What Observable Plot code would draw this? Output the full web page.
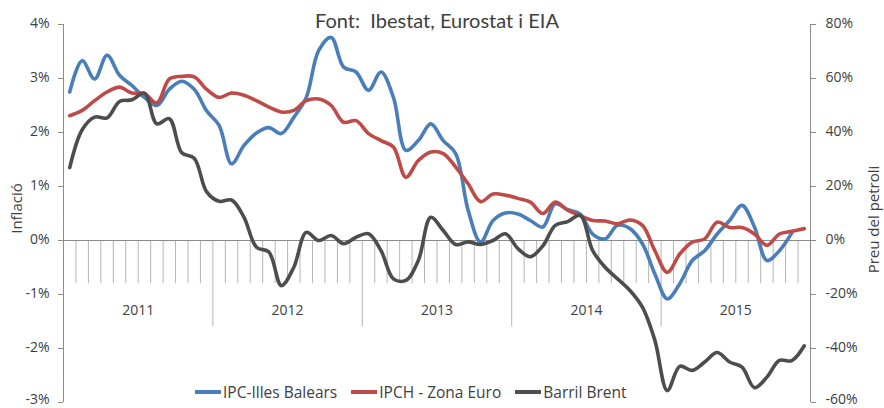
<!DOCTYPE html>
<html><head><meta charset="utf-8">
<script src="https://cdn.jsdelivr.net/npm/d3@7"></script>
<script src="https://cdn.jsdelivr.net/npm/@observablehq/plot@0.6"></script>
<style>
body{margin:0;background:#fff;}
#wrap{position:relative;width:884px;height:408px;font-family:"Open Sans",sans-serif;}
#legend{position:absolute;left:195px;top:383px;display:flex;align-items:center;font-size:15.5px;color:#404040;white-space:nowrap;line-height:18px;}
.item{display:flex;align-items:center;margin-right:14px}
.sw{width:26px;height:4px;margin-right:2px}
</style></head><body><div id="wrap"><div id="legend"></div></div>
<script>
const years = ["2011","2012","2013","2014","2015"];
const ipcBalears = [2.75,3.33,2.99,3.43,3.06,2.87,2.65,2.5,2.8,2.95,2.8,2.4,
  2.13,1.42,1.76,1.99,2.09,1.98,2.28,2.65,3.52,3.76,3.21,3.12,
  2.78,3.12,2.65,1.67,1.85,2.16,1.85,1.61,0.56,-0.03,0.37,0.51,
  0.49,0.37,0.25,0.68,0.57,0.49,0.12,0.03,0.28,0.22,-0.06,-0.62,
  -1.08,-0.8,-0.37,-0.19,0.12,0.37,0.65,0.25,-0.37,-0.19,0.14,null];
const ipchEuro = [2.31,2.41,2.59,2.75,2.84,2.73,2.72,2.55,2.99,3.04,3.03,2.8,
  2.65,2.73,2.69,2.59,2.47,2.38,2.41,2.59,2.62,2.5,2.19,2.22,
  1.98,1.85,1.73,1.17,1.48,1.64,1.61,1.36,1.05,0.72,0.86,0.84,
  0.78,0.71,0.5,0.71,0.56,0.46,0.37,0.36,0.31,0.38,0.28,-0.19,
  -0.59,-0.25,-0.03,0.03,0.34,0.24,0.24,0.12,-0.09,0.12,0.17,0.22];
const brent = [27,41,45.7,45.4,51.5,52.1,54.6,43.2,45.1,32.5,30.5,18,
  14.5,15,8.6,-2.5,-4.3,-16.7,-9.9,3,0,1.85,-1.2,1.2,
  2.5,-3.7,-14.2,-14.8,-7.4,8.6,3.7,-1.5,-0.5,-1.5,0,2.5,
  -3,-6,-2,5.6,7,9.3,-3.7,-9.9,-14.2,-18.5,-24.7,-37,
  -55.6,-46.6,-48.1,-45,-41.5,-45,-46.9,-54.5,-50.6,-44.4,-44.5,-39];
const seriesNames = ["IPC-Illes Balears","IPCH - Zona Euro","Barril Brent"];
const seriesColors = ["#4a7ebb","#be4b48","#4d4d4d"];
const leftTicks = [-3,-2,-1,0,1,2,3,4];
const brentPerInflation = 20;
const titleText = "Font:\u00a0 Ibestat, Eurostat i EIA";
const leftTitle = "Inflació";
const rightTitle = "Preu del petroli";

const nMonths = years.length * 12;
const rows = d3.range(nMonths).map(i => ({i, ipc: ipcBalears[i], ipch: ipchEuro[i], brent: brent[i]}));
const boundaries = d3.range(1, nMonths).map(b => b - 0.5);
const minor = boundaries.filter(b => (b + 0.5) % 12 !== 0);
const major = boundaries.filter(b => (b + 0.5) % 12 === 0);
const yearRows = years.map((y, k) => ({y, x: k * 12 + 5.5}));
const grey = "#8c8c8c", tickGrey = "#b5b5b5", txt = "#404040";
const lowTick = leftTicks.filter(d => d === -3);
const otherTicks = leftTicks.filter(d => d !== -3);
const fmtL = d => d + "%";
const fmtR = d => (d * brentPerInflation) + "%";

const chart = Plot.plot({
  width: 884, height: 408,
  marginLeft: 63, marginRight: 74, marginTop: 24, marginBottom: 6,
  style: {fontFamily: "'Open Sans', sans-serif", fontSize: "14px", color: txt, background: "white"},
  x: {domain: [-0.5, nMonths - 0.5], axis: null},
  y: {domain: [-3, 4], axis: null},
  marks: [
    Plot.ruleX(minor, {y1: 0, y2: -0.8, stroke: tickGrey}),
    Plot.ruleX(major, {y1: 0, y2: -1.6, stroke: tickGrey}),
    Plot.ruleY([0], {stroke: grey}),
    Plot.ruleX([-0.5, nMonths - 0.5], {stroke: grey}),
    // tick marks
    Plot.axisY(leftTicks, {anchor: "left", tickSize: 5, tickFormat: () => "", stroke: grey}),
    Plot.axisY(leftTicks, {anchor: "right", tickSize: 5, tickFormat: () => "", stroke: grey}),
    // tick labels
    Plot.axisY(otherTicks, {anchor: "left", tickSize: 0, tickPadding: 14, dy: -1, tickFormat: fmtL, fill: txt, fontSize: 14}),
    Plot.axisY(lowTick, {anchor: "left", tickSize: 0, tickPadding: 14, dy: -3, tickFormat: fmtL, fill: txt, fontSize: 14}),
    Plot.axisY(otherTicks, {anchor: "right", tickSize: 0, tickPadding: 15, dy: -1, tickFormat: fmtR, fill: txt, fontSize: 14}),
    Plot.axisY(lowTick, {anchor: "right", tickSize: 0, tickPadding: 15, dy: -3, tickFormat: fmtR, fill: txt, fontSize: 14}),
    Plot.text(yearRows, {x: "x", y: () => -1.3, text: "y", fill: txt, fontSize: 14}),
    Plot.line(rows, {x: "i", y: "ipc", stroke: seriesColors[0], strokeWidth: 3.6, curve: "catmull-rom"}),
    Plot.line(rows, {x: "i", y: "ipch", stroke: seriesColors[1], strokeWidth: 3.6, curve: "catmull-rom"}),
    Plot.line(rows, {x: "i", y: d => d.brent / brentPerInflation, stroke: seriesColors[2], strokeWidth: 3.6, curve: "catmull-rom"}),
    Plot.text([titleText], {frameAnchor: "top", textAnchor: "middle", lineAnchor: "bottom", dy: 3, fontSize: 20, fill: txt, fontFamily: "Lato, sans-serif"}),
    Plot.text([leftTitle], {frameAnchor: "left", textAnchor: "middle", rotate: -90, dx: -46, dy: -5, fontSize: 15, fill: txt}),
    Plot.text([rightTitle], {frameAnchor: "right", textAnchor: "middle", rotate: -90, dx: 64, dy: 6, fontSize: 15, fill: txt})
  ]
});
const wrap = document.getElementById("wrap");
wrap.insertBefore(chart, wrap.firstChild);
const legend = document.getElementById("legend");
seriesNames.forEach((n, k) => {
  const it = document.createElement("div"); it.className = "item";
  const sw = document.createElement("div"); sw.className = "sw"; sw.style.background = seriesColors[k];
  const t = document.createElement("span"); t.textContent = n;
  it.appendChild(sw); it.appendChild(t); legend.appendChild(it);
});
</script></body></html>
